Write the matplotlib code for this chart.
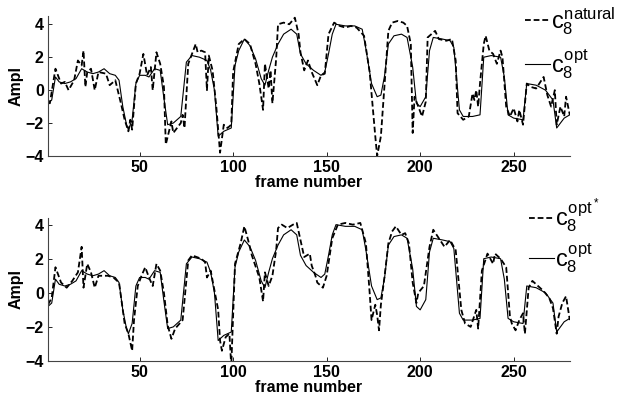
import numpy as np
from matplotlib import pyplot as plt

plt.rcParams['font.family'] = 'Liberation Sans'
plt.rcParams['mathtext.fontset'] = 'custom'
plt.rcParams['mathtext.rm'] = 'Liberation Sans'
plt.rcParams['mathtext.it'] = 'Liberation Sans'
plt.rcParams['mathtext.bf'] = 'Liberation Sans:bold'

# c8 opt (solid, same in both panels)
opt_frames = [1, 3, 5, 7, 10, 13, 16, 19, 22, 25, 28, 31, 34, 37, 39, 41, 43, 44, 46, 48,
              50, 53, 55, 58, 61, 63, 65, 68, 72, 75, 78, 82, 86, 88, 90, 92, 95, 99, 101, 103,
              106, 109, 112, 115, 117, 119, 121, 124, 127, 131, 134, 136, 139, 143, 147, 149, 151, 153, 155, 160,
              165, 169, 171, 174, 177, 179, 181, 183, 186, 190, 193, 196, 198, 200, 203, 205, 207, 212, 216, 218,
              221, 223, 228, 232, 234, 238, 243, 245, 247, 250, 255, 257, 262, 267, 271, 273, 277, 280]
opt_vals = [-0.8, -0.6, 0.8, 0.5, 0.4, 0.5, 0.7, 1.3, 1.1, 1.0, 1.1, 1.3, 1.0, 0.9, 0.6, -1.0, -2.1, -2.4, -1.8, 0.4,
            0.9, 0.9, 0.8, 1.3, 1.2, -0.5, -2.1, -2.0, -1.6, 1.7, 2.1, 2.0, 1.8, 1.2, 0.0, -2.8, -2.5, -2.3, 1.5, 2.4,
            3.1, 2.7, 1.9, 0.7, 0.3, 1.2, 2.0, 2.8, 3.4, 3.7, 3.4, 2.2, 1.6, 1.2, 0.9, 1.1, 2.2, 3.4, 4.0, 3.9,
            3.9, 3.7, 2.5, 0.4, -0.4, -0.3, 0.9, 2.8, 3.3, 3.4, 3.2, 1.4, -0.8, -1.0, -0.4, 2.4, 3.2, 3.1, 3.0, 2.6,
            -1.2, -1.6, -1.6, -1.5, 2.0, 2.1, 2.0, 0.8, -1.5, -1.7, -1.8, 0.4, 0.3, 0.0, -0.6, -2.3, -1.7, -1.5]

# c8 natural (dashed, top panel)
nat_frames = [1, 2, 5, 8, 10, 12, 15, 17, 19, 20, 21, 22, 24, 26, 28, 32, 34, 37, 40, 42,
              44, 45, 46, 48, 50, 52, 54, 56, 57, 59, 61, 63, 64, 67, 68, 72, 73, 74, 76, 80,
              81, 83, 85, 86, 87, 89, 91, 93, 95, 97, 99, 100, 103, 106, 109, 112, 114, 116, 117, 119,
              120, 121, 123, 124, 127, 130, 133, 135, 136, 138, 140, 142, 145, 147, 149, 151, 154, 157, 160, 163,
              166, 170, 173, 176, 177, 179, 181, 183, 185, 188, 191, 193, 195, 196, 197, 199, 201, 203, 204, 206,
              208, 210, 214, 217, 219, 220, 223, 226, 228, 229, 230, 231, 232, 234, 235, 237, 239, 241, 243, 244,
              246, 248, 250, 252, 253, 255, 257, 259, 262, 266, 268, 270, 272, 273, 275, 277, 278, 280]
nat_vals = [-0.7, -0.8, 1.3, 0.4, 0.5, 0.0, 0.6, 1.8, 1.5, 2.4, 0.2, 1.1, 1.3, 0.0, 1.1, 1.0, 0.3, 0.6, -0.8, -1.8,
            -2.5, -1.8, -2.4, 0.4, 1.0, 2.2, 0.9, 1.4, 0.0, 2.3, 1.6, 0.2, -3.3, -1.9, -2.6, -2.0, -1.5, -2.3, 1.6, 2.8,
            2.3, 2.4, 2.3, 0.0, 2.1, 1.2, -1.0, -3.8, -2.1, -2.3, -2.1, 1.1, 2.8, 3.1, 2.8, 1.6, 0.4, -1.2, 1.6, 0.1,
            1.2, -0.8, 1.9, 4.0, 4.1, 4.0, 4.4, 3.4, 2.3, 1.2, 1.8, 1.1, 0.3, 0.9, 1.0, 3.4, 4.1, 3.9, 3.8, 3.9,
            3.8, 3.3, 1.1, -2.8, -4.0, -2.8, 0.4, 3.6, 4.1, 4.2, 4.1, 3.9, 2.8, -2.6, -0.4, -1.0, -1.6, -0.7, 3.2, 3.4,
            3.6, 3.1, 3.0, 3.1, 1.8, -1.4, -1.8, -1.6, -0.2, -0.6, 0.0, -1.0, 0.4, 2.8, 3.3, 2.4, 2.2, 1.6, 2.4, 2.0,
            -1.0, -1.6, -1.1, -1.9, -1.2, -2.1, 0.4, 0.2, 0.1, 0.8, -0.3, -1.0, 0.0, -2.1, -1.0, -1.6, -0.4, -1.5]

# c8 opt* (dashed, bottom panel)
star_frames = [1, 3, 5, 8, 11, 14, 17, 19, 20, 22, 24, 26, 28, 33, 36, 39, 41, 42, 44, 46,
               47, 49, 51, 53, 55, 57, 59, 61, 63, 65, 67, 69, 73, 76, 78, 83, 85, 86, 88, 92,
               93, 94, 96, 98, 99, 101, 104, 106, 108, 110, 114, 116, 117, 119, 121, 123, 124, 126, 129, 132,
               134, 136, 138, 141, 142, 144, 145, 148, 150, 153, 156, 160, 164, 168, 171, 173, 174, 176, 177, 178,
               179, 181, 183, 185, 187, 190, 192, 194, 196, 198, 199, 202, 205, 207, 210, 213, 216, 219, 222, 224,
               227, 230, 231, 233, 236, 239, 240, 243, 246, 248, 249, 251, 253, 255, 256, 258, 260, 263, 266, 269,
               271, 273, 274, 276, 278, 280]
star_vals = [-0.7, -0.3, 1.5, 0.6, 0.3, 0.7, 1.2, 2.7, 0.3, 1.7, 1.2, 0.3, 1.0, 1.0, 0.9, 0.6, -1.0, -1.8, -2.4, -3.4,
             -1.6, 0.4, 1.0, 1.5, 0.9, 0.4, 1.7, 1.3, 0.0, -1.9, -2.7, -2.1, -1.6, 1.9, 2.2, 2.0, 1.8, 0.9, 1.3, -1.0,
             -2.8, -3.4, -2.6, -2.4, -4.3, 1.7, 2.9, 3.9, 3.1, 2.2, 0.9, -0.5, 1.2, 0.4, 1.0, 2.5, 3.8, 4.0, 3.8, 4.0,
             4.1, 3.1, 2.1, 2.3, 1.6, 1.0, 0.6, 0.3, 1.0, 3.2, 4.0, 4.1, 4.0, 4.1, 2.9, 0.0, -1.6, -0.7, -1.3, -2.2,
             -0.7, 1.0, 2.9, 3.6, 3.9, 3.4, 3.5, 2.9, 0.6, -0.6, 0.0, 0.4, 2.7, 3.7, 3.2, 2.7, 3.1, 2.5, -1.0, -1.8,
             -2.0, -1.0, -2.1, 1.3, 2.3, 1.7, 2.3, 2.0, 1.5, -1.4, -1.8, -2.2, -1.6, -1.2, -2.4, 0.3, 0.7, 0.4, 0.1, -0.3,
             -0.9, -2.4, -1.4, -0.6, -0.2, -1.6]

x_ticks = [50, 100, 150, 200, 250]
y_ticks = [-4, -2, 0, 2, 4]

fig = plt.figure(figsize=(6.19, 4.01), dpi=100)
ax1 = fig.add_axes([0.0775, 0.611, 0.843, 0.349])
ax2 = fig.add_axes([0.0775, 0.0998, 0.843, 0.357])

# axis, frames, values, label, y top, legend anchor, legend label spacing
panels = [(ax1, nat_frames, nat_vals, r'$c_8^{natural}$', 4.5, (0.914, 1.08), 0.45),
          (ax2, star_frames, star_vals, r'$c_8^{opt^*}$', 4.4, (0.922, 1.145), 0.25)]

for ax, fr, vals, lab, ytop, anchor, spacing in panels:
    ax.plot(fr, vals, color='black', lw=1.3, linestyle=(0, (3.2, 1.6)), label=lab)
    ax.plot(opt_frames, opt_vals, color='black', lw=0.8, label=r'$c_8^{opt}$')
    ax.set_xlim(1, 280)
    ax.set_ylim(-4, ytop)
    ax.set_xticks(x_ticks)
    ax.set_yticks(y_ticks)
    ax.tick_params(direction='in', length=3, width=0.6, labelsize=11.5, pad=3, colors='black')
    for t in ax.get_xticklabels() + ax.get_yticklabels():
        t.set_fontweight('bold')
    ax.spines['top'].set_visible(False)
    ax.spines['right'].set_visible(False)
    ax.spines['left'].set_color('#444444')
    ax.spines['bottom'].set_color('#444444')
    ax.spines['left'].set_linewidth(0.8)
    ax.spines['bottom'].set_linewidth(0.8)
    ax.set_xlabel('frame number', fontsize=11.5, fontweight='bold', labelpad=0)
    ax.set_ylabel('Ampl', fontsize=11.5, fontweight='bold', labelpad=1)
    ax.legend(loc='upper left', bbox_to_anchor=anchor, frameon=False, fontsize=17,
              handlelength=1.05, handletextpad=0.05, labelspacing=spacing, borderpad=0, borderaxespad=0)

fig.savefig('out.png', dpi=100)
